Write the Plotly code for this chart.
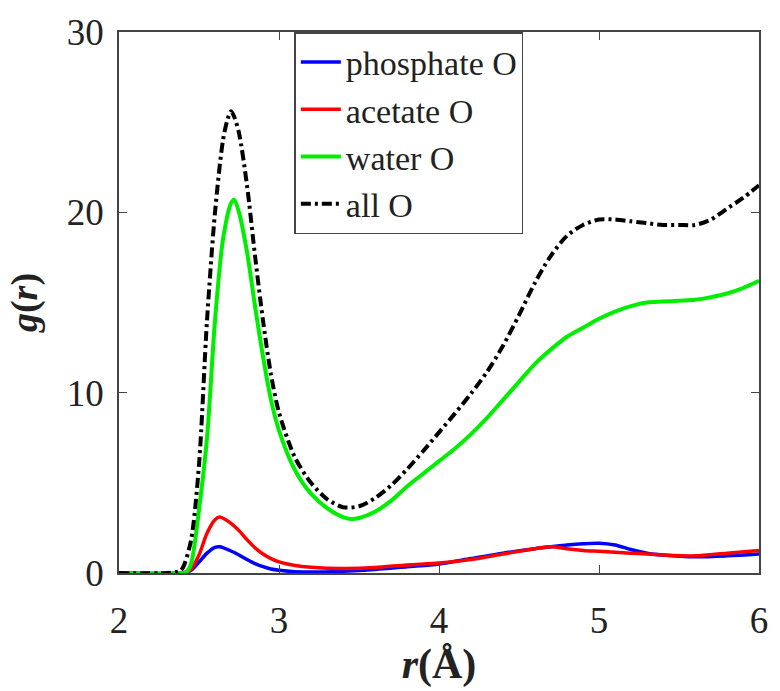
import plotly.graph_objects as go

# r (Å) sample positions and g(r) values
r_all = [2.0, 2.30, 2.38, 2.40, 2.45, 2.50, 2.55, 2.60, 2.65, 2.68, 2.70, 2.72, 2.75, 2.80, 2.85, 2.90,
         2.95, 3.0, 3.1, 3.2, 3.3, 3.4, 3.5, 3.6, 3.7, 3.8, 3.9, 4.0, 4.1, 4.2, 4.3, 4.4, 4.5,
         4.6, 4.7, 4.8, 4.9, 5.0, 5.1, 5.2, 5.3, 5.4, 5.5, 5.6, 5.7, 5.8, 5.9, 6.0]
g_all = [0.0, 0.0, 0.1, 0.3, 1.8, 6.0, 14.0, 20.0, 24.0, 25.2, 25.6, 25.3, 24.4, 21.5, 17.6, 14.0,
         11.0, 8.9, 6.4, 5.0, 4.1, 3.65, 3.7, 4.15, 4.85, 5.75, 6.75, 7.8, 8.85, 9.95, 11.15, 12.6, 14.3,
         16.1, 17.6, 18.7, 19.3, 19.6, 19.6, 19.5, 19.4, 19.3, 19.3, 19.3, 19.6, 20.2, 20.8, 21.5]

r_water = [2.0, 2.35, 2.42, 2.45, 2.50, 2.55, 2.60, 2.65, 2.70, 2.72, 2.75, 2.80, 2.85, 2.90, 2.95, 3.0,
           3.1, 3.2, 3.3, 3.4, 3.45, 3.5, 3.6, 3.7, 3.8, 3.9, 4.0, 4.1, 4.2, 4.3, 4.4, 4.5, 4.6,
           4.7, 4.8, 4.9, 5.0, 5.1, 5.2, 5.3, 5.4, 5.5, 5.6, 5.7, 5.8, 5.9, 6.0]
g_water = [0.0, 0.0, 0.05, 0.5, 3.5, 7.5, 14.0, 18.5, 20.5, 20.7, 20.0, 17.8, 14.8, 12.0, 9.6, 7.9,
           5.7, 4.4, 3.6, 3.1, 3.0, 3.05, 3.4, 4.0, 4.8, 5.5, 6.2, 6.9, 7.7, 8.6, 9.6, 10.6, 11.6,
           12.4, 13.1, 13.6, 14.1, 14.5, 14.8, 15.0, 15.05, 15.1, 15.15, 15.3, 15.5, 15.8, 16.2]

r_small = [2.0, 2.40, 2.45, 2.50, 2.55, 2.60, 2.63, 2.70, 2.75, 2.80, 2.85, 2.90, 2.95, 3.0, 3.1,
           3.2, 3.4, 3.6, 3.8, 4.0, 4.2, 4.4, 4.6, 4.7, 4.8, 4.9, 5.0, 5.1, 5.2, 5.3, 5.4, 5.6,
           5.8, 6.0]
g_phosphate = [0.0, 0.0, 0.15, 0.6, 1.1, 1.42, 1.45, 1.22, 1.0, 0.75, 0.52, 0.35, 0.22, 0.15, 0.07,
               0.05, 0.1, 0.2, 0.35, 0.5, 0.8, 1.1, 1.35, 1.45, 1.55, 1.62, 1.65, 1.55, 1.3, 1.1,
               1.0, 0.9, 0.95, 1.05]
g_acetate = [0.0, 0.0, 0.2, 1.0, 2.2, 2.95, 3.1, 2.75, 2.35, 1.85, 1.4, 1.05, 0.8, 0.62, 0.42,
             0.32, 0.25, 0.3, 0.45, 0.55, 0.75, 1.05, 1.35, 1.45, 1.35, 1.25, 1.2, 1.15, 1.1,
             1.05, 1.0, 0.95, 1.1, 1.25]

x_ticks = [2, 3, 4, 5, 6]
y_ticks = [0, 10, 20, 30]

FONT = "Liberation Serif"

fig = go.Figure()
fig.add_trace(go.Scatter(x=r_small, y=g_phosphate, mode="lines", name="phosphate O",
                         line=dict(color="#0000ff", width=3.5, shape="spline", smoothing=0.8)))
fig.add_trace(go.Scatter(x=r_small, y=g_acetate, mode="lines", name="acetate O",
                         line=dict(color="#ff0000", width=3.5, shape="spline", smoothing=0.8)))
fig.add_trace(go.Scatter(x=r_water, y=g_water, mode="lines", name="water O",
                         line=dict(color="#00ee00", width=4, shape="spline", smoothing=0.8)))
fig.add_trace(go.Scatter(x=r_all, y=g_all, mode="lines", name="all O",
                         line=dict(color="#000000", width=4, dash="10px,4px,3px,4px",
                                   shape="spline", smoothing=0.8)))

axis_common = dict(
    showline=True, linecolor="#444444", linewidth=1.5, mirror="ticks",
    ticks="inside", ticklen=8, tickwidth=1.2, tickcolor="#444444",
    showgrid=False, zeroline=False,
    tickfont=dict(family=FONT, size=37, color="#222222"),
)

fig.update_xaxes(range=[2, 6], tickvals=x_ticks, ticktext=[str(v) for v in x_ticks],
                 ticklabelstandoff=14,
                 title=dict(text="<b><i>r</i>(Å)</b>", font=dict(family=FONT, size=42, color="#222222"),
                            standoff=4),
                 **axis_common)
fig.update_yaxes(range=[0, 30], tickvals=y_ticks, ticktext=[str(v) for v in y_ticks],
                 ticklabelstandoff=6,
                 title=dict(text="<b><i>g</i>(<i>r</i>)</b>", font=dict(family=FONT, size=38, color="#222222"),
                            standoff=18),
                 **axis_common)

fig.update_layout(
    width=780, height=691,
    margin=dict(l=119, r=15, t=28, b=118),
    paper_bgcolor="white", plot_bgcolor="white",
    showlegend=True,
    legend=dict(x=0.274, y=1.0, xanchor="left", yanchor="top",
                bgcolor="white", bordercolor="#444444", borderwidth=1.5,
                font=dict(family=FONT, size=34, color="#222222"),
                tracegroupgap=0, itemwidth=40),
)

fig.write_html("out.html")
